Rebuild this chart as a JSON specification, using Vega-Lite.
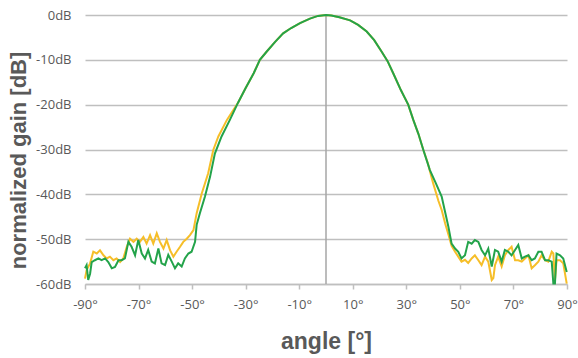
{
  "$schema": "https://vega.github.io/schema/vega-lite/v6.json",
  "width": 482,
  "height": 269,
  "autosize": {"type": "none"},
  "padding": {"left": 85, "top": 15, "right": 11, "bottom": 74},
  "background": "white",
  "config": {"view": {"stroke": null}, "font": "Open Sans"},
  "data": {"values": [
      {"s": "G", "a": -90, "g": -56.5}, {"s": "G", "a": -89.4, "g": -55.8}, {"s": "G", "a": -88.8, "g": -59.1}, {"s": "G", "a": -88.1, "g": -57.7},
      {"s": "G", "a": -87.5, "g": -55.1}, {"s": "G", "a": -86.3, "g": -54.7}, {"s": "G", "a": -85.0, "g": -54.3}, {"s": "G", "a": -83.8, "g": -54.7},
      {"s": "G", "a": -82.5, "g": -54.3}, {"s": "G", "a": -81.3, "g": -55.1}, {"s": "G", "a": -80.0, "g": -56.5}, {"s": "G", "a": -78.8, "g": -56.2},
      {"s": "G", "a": -77.5, "g": -54.7}, {"s": "G", "a": -76.3, "g": -54.7}, {"s": "G", "a": -75.1, "g": -54.3}, {"s": "G", "a": -73.8, "g": -50.6},
      {"s": "G", "a": -72.6, "g": -51.7}, {"s": "G", "a": -71.3, "g": -53.6}, {"s": "G", "a": -70.1, "g": -50.2}, {"s": "G", "a": -68.8, "g": -53.2},
      {"s": "G", "a": -67.6, "g": -54.3}, {"s": "G", "a": -66.4, "g": -52.4}, {"s": "G", "a": -65.1, "g": -55.0}, {"s": "G", "a": -63.9, "g": -55.4},
      {"s": "G", "a": -62.6, "g": -52.1}, {"s": "G", "a": -61.4, "g": -55.4}, {"s": "G", "a": -60.1, "g": -55.8}, {"s": "G", "a": -58.9, "g": -53.5},
      {"s": "G", "a": -57.6, "g": -55.0}, {"s": "G", "a": -56.4, "g": -56.5}, {"s": "G", "a": -55.2, "g": -55.4}, {"s": "G", "a": -53.9, "g": -56.1},
      {"s": "G", "a": -52.7, "g": -54.3}, {"s": "G", "a": -51.4, "g": -53.2}, {"s": "G", "a": -50.2, "g": -52.8}, {"s": "G", "a": -48.9, "g": -50.6},
      {"s": "G", "a": -48.3, "g": -46.8}, {"s": "G", "a": -47.1, "g": -44.2}, {"s": "G", "a": -45.2, "g": -40.5}, {"s": "G", "a": -43.3, "g": -36.1},
      {"s": "G", "a": -41.5, "g": -30.9}, {"s": "G", "a": -39, "g": -27.1}, {"s": "G", "a": -35.9, "g": -23.4}, {"s": "G", "a": -32.8, "g": -19.5},
      {"s": "G", "a": -30, "g": -16.3}, {"s": "G", "a": -27, "g": -13}, {"s": "G", "a": -24.7, "g": -10}, {"s": "G", "a": -22.2, "g": -8.2},
      {"s": "G", "a": -19, "g": -6}, {"s": "G", "a": -16, "g": -4.1}, {"s": "G", "a": -13, "g": -2.9}, {"s": "G", "a": -9.7, "g": -1.8},
      {"s": "G", "a": -6, "g": -0.8}, {"s": "G", "a": -3, "g": -0.2}, {"s": "G", "a": 0, "g": 0}, {"s": "G", "a": 2, "g": -0.1},
      {"s": "G", "a": 5, "g": -0.5}, {"s": "G", "a": 9, "g": -1.2}, {"s": "G", "a": 12, "g": -2.2}, {"s": "G", "a": 15.2, "g": -3.7},
      {"s": "G", "a": 18, "g": -5.6}, {"s": "G", "a": 20.8, "g": -8.2}, {"s": "G", "a": 23, "g": -10.3}, {"s": "G", "a": 25.1, "g": -13},
      {"s": "G", "a": 28, "g": -16.8}, {"s": "G", "a": 30.7, "g": -20}, {"s": "G", "a": 32.6, "g": -23.4}, {"s": "G", "a": 34.5, "g": -26.5},
      {"s": "G", "a": 36.3, "g": -30}, {"s": "G", "a": 38.8, "g": -34.6}, {"s": "G", "a": 41, "g": -37.5}, {"s": "G", "a": 43.2, "g": -40.5},
      {"s": "G", "a": 44.5, "g": -44}, {"s": "G", "a": 45.7, "g": -47.2}, {"s": "G", "a": 46.9, "g": -51}, {"s": "G", "a": 48.2, "g": -52.1},
      {"s": "G", "a": 49.4, "g": -52.8}, {"s": "G", "a": 50.6, "g": -54.3}, {"s": "G", "a": 51.9, "g": -53.6}, {"s": "G", "a": 53.1, "g": -50.6},
      {"s": "G", "a": 54.4, "g": -51.0}, {"s": "G", "a": 55.6, "g": -50.2}, {"s": "G", "a": 56.9, "g": -50.6}, {"s": "G", "a": 58.1, "g": -52.4},
      {"s": "G", "a": 59.4, "g": -53.6}, {"s": "G", "a": 60.6, "g": -52.1}, {"s": "G", "a": 61.9, "g": -56.1}, {"s": "G", "a": 63.1, "g": -52.4},
      {"s": "G", "a": 64.3, "g": -52.8}, {"s": "G", "a": 65.6, "g": -55.0}, {"s": "G", "a": 66.8, "g": -52.4}, {"s": "G", "a": 68.1, "g": -52.8},
      {"s": "G", "a": 69.3, "g": -53.6}, {"s": "G", "a": 70.6, "g": -52.4}, {"s": "G", "a": 71.8, "g": -51.3}, {"s": "G", "a": 73.1, "g": -54.3},
      {"s": "G", "a": 74.3, "g": -53.9}, {"s": "G", "a": 75.6, "g": -53.6}, {"s": "G", "a": 76.8, "g": -54.7}, {"s": "G", "a": 78.0, "g": -54.3},
      {"s": "G", "a": 79.3, "g": -52.8}, {"s": "G", "a": 80.5, "g": -52.8}, {"s": "G", "a": 81.8, "g": -54.7}, {"s": "G", "a": 83.0, "g": -54.7},
      {"s": "G", "a": 84.3, "g": -55.0}, {"s": "G", "a": 84.9, "g": -59.9}, {"s": "G", "a": 85.5, "g": -59.9}, {"s": "G", "a": 86.1, "g": -53.2},
      {"s": "G", "a": 87.4, "g": -53.6}, {"s": "G", "a": 88.6, "g": -54.3}, {"s": "G", "a": 89.9, "g": -57.3},
      {"s": "Y", "a": -90, "g": -58.8}, {"s": "Y", "a": -89.4, "g": -56.9}, {"s": "Y", "a": -88.1, "g": -55.4}, {"s": "Y", "a": -86.9, "g": -52.8},
      {"s": "Y", "a": -85.6, "g": -53.2}, {"s": "Y", "a": -84.4, "g": -52.5}, {"s": "Y", "a": -83.1, "g": -53.6}, {"s": "Y", "a": -81.9, "g": -54.3},
      {"s": "Y", "a": -80.7, "g": -53.9}, {"s": "Y", "a": -79.4, "g": -54.7}, {"s": "Y", "a": -78.2, "g": -54.3}, {"s": "Y", "a": -76.9, "g": -55.1},
      {"s": "Y", "a": -75.7, "g": -54.3}, {"s": "Y", "a": -74.4, "g": -51.7}, {"s": "Y", "a": -73.2, "g": -49.9}, {"s": "Y", "a": -71.9, "g": -50.6},
      {"s": "Y", "a": -70.7, "g": -49.9}, {"s": "Y", "a": -69.5, "g": -50.6}, {"s": "Y", "a": -68.2, "g": -49.5}, {"s": "Y", "a": -67.0, "g": -51.0},
      {"s": "Y", "a": -65.7, "g": -49.1}, {"s": "Y", "a": -64.5, "g": -51.0}, {"s": "Y", "a": -63.2, "g": -48.7}, {"s": "Y", "a": -62.0, "g": -50.6},
      {"s": "Y", "a": -60.7, "g": -52.1}, {"s": "Y", "a": -59.5, "g": -50.2}, {"s": "Y", "a": -58.2, "g": -52.5}, {"s": "Y", "a": -57.0, "g": -53.9},
      {"s": "Y", "a": -55.8, "g": -52.8}, {"s": "Y", "a": -54.5, "g": -51.7}, {"s": "Y", "a": -53.3, "g": -50.6}, {"s": "Y", "a": -52.0, "g": -49.9},
      {"s": "Y", "a": -50.8, "g": -49.1}, {"s": "Y", "a": -49.5, "g": -48.0}, {"s": "Y", "a": -48.3, "g": -44.2}, {"s": "Y", "a": -46.4, "g": -39.8},
      {"s": "Y", "a": -44, "g": -35.3}, {"s": "Y", "a": -42.1, "g": -30.1}, {"s": "Y", "a": -40.2, "g": -27.1}, {"s": "Y", "a": -37, "g": -23.4},
      {"s": "Y", "a": -32.8, "g": -19.5}, {"s": "Y", "a": -30, "g": -16.3}, {"s": "Y", "a": -27, "g": -13}, {"s": "Y", "a": -24.7, "g": -10},
      {"s": "Y", "a": -22.2, "g": -8.2}, {"s": "Y", "a": -19, "g": -6}, {"s": "Y", "a": -16, "g": -4.1}, {"s": "Y", "a": -13, "g": -2.9},
      {"s": "Y", "a": -9.7, "g": -1.8}, {"s": "Y", "a": -6, "g": -0.8}, {"s": "Y", "a": -3, "g": -0.2}, {"s": "Y", "a": 0, "g": 0},
      {"s": "Y", "a": 2, "g": -0.1}, {"s": "Y", "a": 5, "g": -0.5}, {"s": "Y", "a": 9, "g": -1.2}, {"s": "Y", "a": 12, "g": -2.2},
      {"s": "Y", "a": 15.2, "g": -3.7}, {"s": "Y", "a": 18, "g": -5.6}, {"s": "Y", "a": 20.8, "g": -8.2}, {"s": "Y", "a": 23, "g": -10.3},
      {"s": "Y", "a": 25.1, "g": -13}, {"s": "Y", "a": 28, "g": -16.8}, {"s": "Y", "a": 30.7, "g": -20}, {"s": "Y", "a": 32.6, "g": -23.4},
      {"s": "Y", "a": 34.5, "g": -26.5}, {"s": "Y", "a": 36.3, "g": -30}, {"s": "Y", "a": 38, "g": -33}, {"s": "Y", "a": 40, "g": -37.5},
      {"s": "Y", "a": 42, "g": -41.5}, {"s": "Y", "a": 43.2, "g": -43.5}, {"s": "Y", "a": 44.5, "g": -46.5}, {"s": "Y", "a": 45.5, "g": -48.5},
      {"s": "Y", "a": 46.9, "g": -51.5}, {"s": "Y", "a": 48.2, "g": -52.8}, {"s": "Y", "a": 49.4, "g": -53.9}, {"s": "Y", "a": 50.6, "g": -55.0},
      {"s": "Y", "a": 51.9, "g": -54.6}, {"s": "Y", "a": 53.1, "g": -55.3}, {"s": "Y", "a": 54.4, "g": -54.3}, {"s": "Y", "a": 55.6, "g": -53.6},
      {"s": "Y", "a": 56.9, "g": -54.7}, {"s": "Y", "a": 58.1, "g": -55.8}, {"s": "Y", "a": 59.4, "g": -53.9}, {"s": "Y", "a": 60.6, "g": -55.0},
      {"s": "Y", "a": 61.9, "g": -59.1}, {"s": "Y", "a": 62.5, "g": -58.7}, {"s": "Y", "a": 63.1, "g": -55.8}, {"s": "Y", "a": 64.3, "g": -53.9},
      {"s": "Y", "a": 65.6, "g": -56.1}, {"s": "Y", "a": 66.8, "g": -53.6}, {"s": "Y", "a": 68.1, "g": -52.4}, {"s": "Y", "a": 69.3, "g": -51.7},
      {"s": "Y", "a": 70.6, "g": -54.7}, {"s": "Y", "a": 71.8, "g": -54.7}, {"s": "Y", "a": 73.1, "g": -55.0}, {"s": "Y", "a": 74.3, "g": -54.3},
      {"s": "Y", "a": 75.6, "g": -53.6}, {"s": "Y", "a": 76.8, "g": -56.5}, {"s": "Y", "a": 78.0, "g": -55.8}, {"s": "Y", "a": 79.3, "g": -55.0},
      {"s": "Y", "a": 80.5, "g": -53.6}, {"s": "Y", "a": 81.8, "g": -54.7}, {"s": "Y", "a": 83.0, "g": -55.0}, {"s": "Y", "a": 84.3, "g": -52.8},
      {"s": "Y", "a": 84.9, "g": -53.2}, {"s": "Y", "a": 85.5, "g": -59.1}, {"s": "Y", "a": 86.1, "g": -54.7}, {"s": "Y", "a": 87.4, "g": -54.7},
      {"s": "Y", "a": 88.6, "g": -55.4}, {"s": "Y", "a": 89.9, "g": -59.9}
  ]},
  "encoding": {
    "x": {
      "field": "a", "type": "quantitative",
      "scale": {"domain": [-90, 90], "nice": false, "zero": false},
      "axis": {
        "values": [-90, -70, -50, -30, -10, 10, 30, 50, 70, 90],
        "labelExpr": "datum.value + '°'",
        "grid": false,
        "domainColor": "#BFBFBF", "domainWidth": 1.5,
        "tickColor": "#BFBFBF", "tickSize": 5, "tickWidth": 1.5,
        "labelPadding": 9, "labelFontSize": 13, "labelColor": "#595959",
        "labelFont": "Open Sans", "labelFlush": false, "labelOverlap": false,
        "title": "angle [°]",
        "titleFont": "Liberation Sans", "titleFontSize": 23, "titleFontWeight": "bold",
        "titleColor": "#595959",
        "titleX": 241, "titleY": 64, "titleAlign": "center", "titleBaseline": "alphabetic"
      }
    },
    "y": {
      "field": "g", "type": "quantitative",
      "scale": {"domain": [-60, 0], "nice": false, "zero": false},
      "axis": {
        "values": [-60, -50, -40, -30, -20, -10, 0],
        "labelExpr": "datum.value + 'dB'",
        "grid": true, "gridColor": "#BFBFBF", "gridWidth": 1.5,
        "domain": false, "ticks": false,
        "labelPadding": 14, "labelFontSize": 13, "labelColor": "#595959",
        "labelFont": "Open Sans", "labelFlush": false, "labelOverlap": false,
        "title": "normalized gain [dB]",
        "titleFont": "Liberation Sans", "titleFontSize": 22, "titleFontWeight": "bold",
        "titleColor": "#595959",
        "titleAngle": -90, "titleX": -60, "titleY": 145,
        "titleAlign": "center", "titleBaseline": "alphabetic"
      }
    }
  },
  "layer": [
    {
      "transform": [{"filter": "datum.s === 'G' && datum.a === 0"}],
      "mark": {"type": "rule", "color": "#A6A6A6", "strokeWidth": 1.5},
      "encoding": {"y2": {"datum": -60}}
    },
    {
      "transform": [{"filter": "datum.s === 'Y'"}],
      "mark": {"type": "line", "color": "#F6BE28", "strokeWidth": 2}
    },
    {
      "transform": [{"filter": "datum.s === 'G'"}],
      "mark": {"type": "line", "color": "#23A34A", "strokeWidth": 2}
    }
  ]
}
